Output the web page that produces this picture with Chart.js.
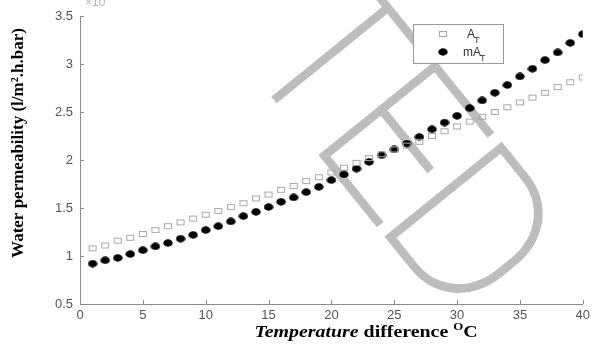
<!DOCTYPE html>
<html>
<head>
<meta charset="utf-8">
<script src="https://cdn.jsdelivr.net/npm/chart.js@4/dist/chart.umd.min.js"></script>
<style>
  html, body { margin: 0; padding: 0; background: #fff; }
  #wrap { width: 594px; height: 344px; }
</style>
</head>
<body>
<div id="wrap"><canvas id="chart" width="594" height="344"></canvas></div>
<script>
// Temperature difference (°C) for each measurement
const temperatureDiff = [1, 2, 3, 4, 5, 6, 7, 8, 9, 10, 11, 12, 13, 14, 15, 16, 17, 18, 19, 20,
  21, 22, 23, 24, 25, 26, 27, 28, 29, 30, 31, 32, 33, 34, 35, 36, 37, 38, 39, 40];

// Water permeability, A_T
const permeabilityAT = [1.08, 1.11, 1.16, 1.19, 1.23, 1.27, 1.31, 1.35, 1.39, 1.43,
  1.47, 1.51, 1.55, 1.60, 1.64, 1.69, 1.73, 1.78, 1.82, 1.87,
  1.92, 1.97, 2.02, 2.06, 2.11, 2.15, 2.19, 2.25, 2.30, 2.35,
  2.40, 2.45, 2.50, 2.55, 2.60, 2.65, 2.70, 2.76, 2.81, 2.86];

// Water permeability, mA_T
const permeabilityMAT = [0.92, 0.955, 0.98, 1.02, 1.06, 1.10, 1.135, 1.18, 1.22, 1.27,
  1.31, 1.36, 1.415, 1.46, 1.51, 1.565, 1.61, 1.665, 1.72, 1.79,
  1.85, 1.91, 1.98, 2.05, 2.11, 2.17, 2.24, 2.32, 2.39, 2.46,
  2.54, 2.62, 2.70, 2.78, 2.87, 2.95, 3.04, 3.12, 3.22, 3.31];

const xTickValues = [0, 5, 10, 15, 20, 25, 30, 35, 40];
const yTickValues = [0.5, 1, 1.5, 2, 2.5, 3, 3.5];

// series name = base + subscript
const seriesNames = [['A', 'T'], ['mA', 'T']];
const yTitleText = 'Water permeability (l/m\u00B2.h.bar)';
const xTitleParts = ['Temperature', ' difference ', 'O', 'C'];
const stampLetters = ['T', 'E', 'D'];

const AXIS = '#8c8c8c';
const TICK_TEXT = '#555555';
const SANS = '"Liberation Sans", Arial, sans-serif';
const SERIF = '"Liberation Serif", "Times New Roman", serif';

// marker sprites (slightly flattened, as in the printed figure)
function squareSprite() {
  const c = document.createElement('canvas');
  c.width = 10; c.height = 8;
  const g = c.getContext('2d');
  g.strokeStyle = '#a8a8a8';
  g.lineWidth = 1;
  g.strokeRect(1.5, 1.5, 7, 5);
  return c;
}
function dotSprite() {
  const c = document.createElement('canvas');
  c.width = 10; c.height = 8;
  const g = c.getContext('2d');
  g.fillStyle = '#000';
  g.beginPath();
  g.ellipse(5, 4, 4.7, 3.7, 0, 0, Math.PI * 2);
  g.fill();
  return c;
}
const squareImg = squareSprite();
const dotImg = dotSprite();

function toPoints(xs, ys) { return xs.map((x, i) => ({ x: x, y: ys[i] })); }

const decorations = {
  id: 'decorations',
  beforeDatasetsDraw(chart) {
    // diagonal stamp lettering behind the markers
    const ctx = chart.ctx;
    ctx.save();
    ctx.translate(275, 99);
    ctx.rotate(51 * Math.PI / 180);
    ctx.font = '100 208px Roboto';
    ctx.fillStyle = '#bdbdbd';
    ctx.strokeStyle = '#bdbdbd';
    ctx.lineWidth = 3;
    ctx.textBaseline = 'alphabetic';
    const stems = [0, 76, 181];
    stampLetters.forEach((ch, i) => {
      let x;
      if (i === 0) {
        ctx.textAlign = 'center';
        x = stems[i];
      } else {
        ctx.textAlign = 'left';
        const m = ctx.measureText(ch);
        x = stems[i] - 4 + m.actualBoundingBoxLeft;
      }
      ctx.fillText(ch, x, 0);
      ctx.strokeText(ch, x, 0);
    });
    ctx.restore();
  },
  afterDatasetsDraw(chart) {
    const ctx = chart.ctx;
    const xs = chart.scales.x, ys = chart.scales.y;
    const area = chart.chartArea;
    ctx.save();

    // inward tick marks
    ctx.strokeStyle = AXIS;
    ctx.lineWidth = 1;
    ctx.beginPath();
    xs.ticks.forEach(t => {
      const px = Math.round(xs.getPixelForValue(t.value)) + 0.5;
      ctx.moveTo(px, area.bottom);
      ctx.lineTo(px, area.bottom - 4);
    });
    ys.ticks.forEach(t => {
      const py = Math.round(ys.getPixelForValue(t.value)) + 0.5;
      ctx.moveTo(area.left, py);
      ctx.lineTo(area.left + 4, py);
    });
    ctx.stroke();

    // exponent marker at the top of the y axis (cut by the top edge)
    ctx.fillStyle = '#b4b4b4';
    ctx.font = '12px ' + SANS;
    ctx.textAlign = 'left';
    ctx.textBaseline = 'alphabetic';
    ctx.fillText('\u00D710', 85, 6);

    // legend box
    const lx = 413.5, ly = 24.5, lw = 90, lh = 39;
    ctx.fillStyle = '#fff';
    ctx.fillRect(lx, ly, lw, lh);
    ctx.strokeStyle = '#9a9a9a';
    ctx.strokeRect(lx, ly, lw, lh);
    const imgs = [squareImg, dotImg];
    const rowY = [34, 52];
    seriesNames.forEach((nm, i) => {
      ctx.drawImage(imgs[i], 443 - 5, rowY[i] - 4);
      ctx.fillStyle = '#333';
      ctx.font = '12px ' + SANS;
      ctx.textAlign = 'left';
      ctx.textBaseline = 'alphabetic';
      const tx = i === 0 ? 467 : 463;
      ctx.fillText(nm[0], tx, rowY[i] + 4);
      const w = ctx.measureText(nm[0]).width;
      ctx.font = '9px ' + SANS;
      ctx.fillText(nm[1], tx + w - 1, rowY[i] + 9);
    });

    // y axis title
    ctx.fillStyle = '#000';
    ctx.font = 'bold 17px ' + SERIF;
    ctx.save();
    ctx.translate(23, 143);
    ctx.rotate(-Math.PI / 2);
    ctx.textAlign = 'center';
    ctx.textBaseline = 'alphabetic';
    ctx.fillText(yTitleText, 0, 0);
    ctx.restore();

    // x axis title (mixed styles, slightly widened)
    const fonts = ['italic bold 17px ' + SERIF, 'bold 17px ' + SERIF, 'bold 11px ' + SERIF, 'bold 17px ' + SERIF];
    const rise = [0, 0, -7, 0];
    const stretch = 1.17;
    let total = 0;
    const widths = xTitleParts.map((p, i) => { ctx.font = fonts[i]; const w = ctx.measureText(p).width; total += w; return w; });
    ctx.save();
    ctx.translate(366 - total * stretch / 2, 337);
    ctx.scale(stretch, 1);
    ctx.textAlign = 'left';
    let cx = 0;
    xTitleParts.forEach((p, i) => {
      ctx.font = fonts[i];
      ctx.fillText(p, cx, rise[i]);
      cx += widths[i];
    });
    ctx.restore();
    ctx.restore();
  }
};

new Chart(document.getElementById('chart'), {
  type: 'scatter',
  data: {
    datasets: [
      {
        label: 'A_T',
        data: toPoints(temperatureDiff, permeabilityAT),
        pointStyle: squareImg,
        showLine: false
      },
      {
        label: 'mA_T',
        data: toPoints(temperatureDiff, permeabilityMAT),
        pointStyle: dotImg,
        showLine: false
      }
    ]
  },
  options: {
    responsive: false,
    animation: false,
    devicePixelRatio: 1,
    layout: { padding: { left: 0, top: 16, right: 9, bottom: 0 } },
    plugins: { legend: { display: false }, tooltip: { enabled: false } },
    scales: {
      x: {
        type: 'linear',
        min: 0, max: 40,
        afterBuildTicks(s) { s.ticks = xTickValues.map(v => ({ value: v })); },
        afterFit(s) { s.height = 40; },
        grid: { display: false, drawTicks: false },
        border: { display: true, color: AXIS, width: 1 },
        ticks: { color: TICK_TEXT, font: { family: SANS, size: 13 }, padding: 4, maxRotation: 0,
                 callback: v => String(v) }
      },
      y: {
        type: 'linear',
        min: 0.5, max: 3.5,
        afterBuildTicks(s) { s.ticks = yTickValues.map(v => ({ value: v })); },
        afterFit(s) { s.width = 80; },
        grid: { display: false, drawTicks: false },
        border: { display: true, color: AXIS, width: 1 },
        ticks: { color: TICK_TEXT, font: { family: SANS, size: 13 }, padding: 7,
                 callback: v => String(v) }
      }
    }
  },
  plugins: [decorations]
});
</script>
</body>
</html>
